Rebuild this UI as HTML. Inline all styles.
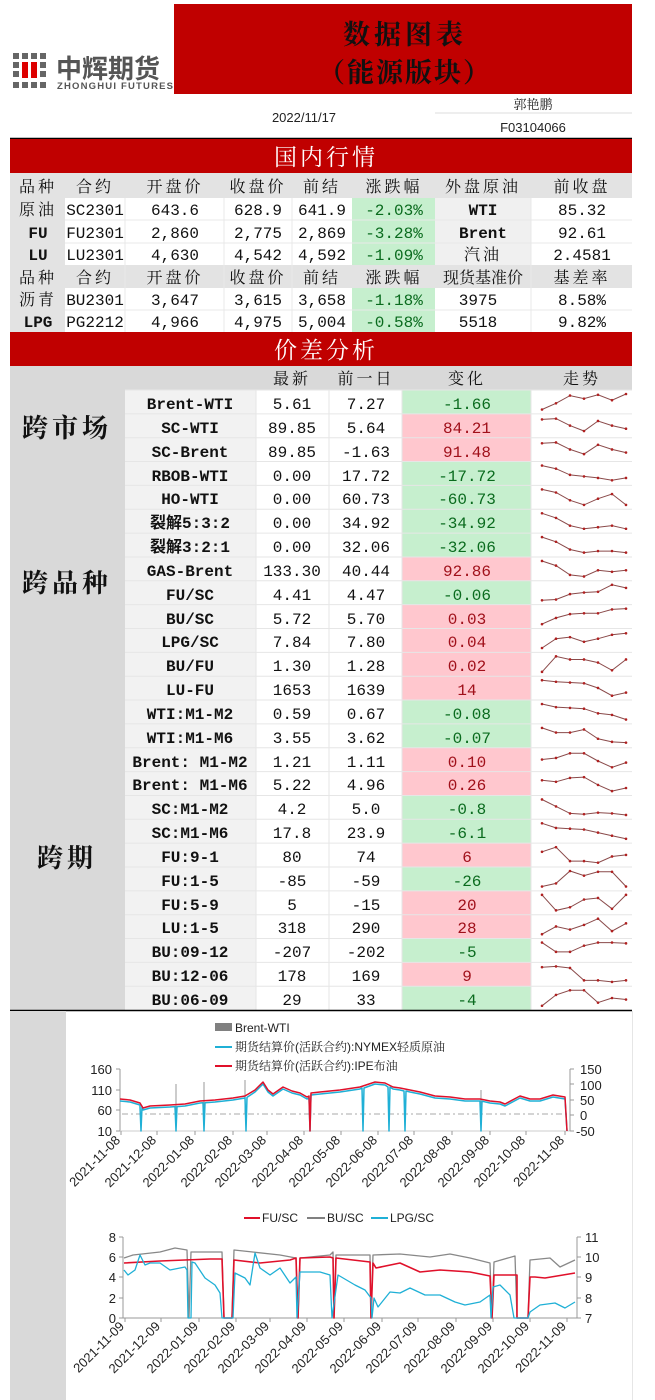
<!DOCTYPE html>
<html><head><meta charset="utf-8"><style>
html,body{margin:0;padding:0;background:#fff;}
svg{display:block;}
.m{font-family:"Liberation Mono","Noto Sans CJK SC",monospace;font-size:16px;fill:#111;}
.mb{font-family:"Liberation Mono","Noto Sans CJK SC",monospace;font-size:16px;font-weight:bold;fill:#111;}
.h{font-family:"Noto Serif CJK SC",serif;font-size:16px;fill:#111;letter-spacing:3px;}
.s{font-family:"Liberation Sans","Noto Sans CJK SC",sans-serif;font-size:12px;fill:#222;}
.ax{font-family:"Liberation Sans",sans-serif;font-size:13px;fill:#222;}
.g{fill:#0a6b1e}.r{fill:#a0101a}
</style></head><body>
<svg width="655" height="1400" viewBox="0 0 655 1400" xmlns="http://www.w3.org/2000/svg">
<rect x="0" y="0" width="655" height="1400" fill="#fff"/>
<!-- header -->
<rect x="174" y="4" width="458" height="90" fill="#c00000"/>
<g fill="#666">
<rect x="13" y="53" width="6" height="6"/><rect x="22" y="53" width="6" height="6"/><rect x="31" y="53" width="6" height="6"/><rect x="40" y="53" width="6" height="6"/>
<rect x="13" y="62" width="6" height="6"/><rect x="40" y="62" width="6" height="6"/>
<rect x="13" y="71" width="6" height="6"/><rect x="40" y="71" width="6" height="6"/>
<rect x="13" y="82" width="6" height="6"/><rect x="22" y="82" width="6" height="6"/><rect x="31" y="82" width="6" height="6"/><rect x="40" y="82" width="6" height="6"/>
</g>
<rect x="22" y="62" width="6" height="16" fill="#d00"/><rect x="31" y="62" width="6" height="16" fill="#d00"/>
<text x="56" y="78" style="font-family:'Noto Sans CJK SC',sans-serif;font-size:26px;font-weight:bold;fill:#555">中辉期货</text>
<text x="57" y="89" style="font-family:'Liberation Sans',sans-serif;font-size:9.5px;font-weight:bold;fill:#555" textLength="116">ZHONGHUI FUTURES</text>
<text x="405" y="44" text-anchor="middle" style="font-family:'Noto Serif CJK SC',serif;font-size:27px;font-weight:bold;fill:#111;letter-spacing:4px">数据图表</text>
<text x="405" y="82" text-anchor="middle" style="font-family:'Noto Serif CJK SC',serif;font-size:27px;font-weight:bold;fill:#111;letter-spacing:2px">（能源版块）</text>
<text x="304" y="122" text-anchor="middle" class="s" style="font-size:13px">2022/11/17</text>
<line x1="435" y1="113" x2="632" y2="113" stroke="#ddd"/>
<text x="533" y="109" text-anchor="middle" style="font-family:'Noto Serif CJK SC',serif;font-size:13px;fill:#222">郭艳鹏</text>
<text x="533" y="132" text-anchor="middle" class="s" style="font-size:13px">F03104066</text>
<line x1="10" y1="138.5" x2="632" y2="138.5" stroke="#000" stroke-width="1.5"/>
<!-- domestic -->
<rect x="10" y="139" width="622" height="34" fill="#c00000"/>
<text x="326" y="165" text-anchor="middle" style="font-family:'Noto Serif CJK SC',serif;font-size:23px;fill:#fff;letter-spacing:3px">国内行情</text>
<rect x="10" y="173" width="622" height="159" fill="#e3e3e3"/>
<rect x="65" y="198" width="567" height="67" fill="#fff"/>
<rect x="65" y="288" width="567" height="44" fill="#fff"/>
<rect x="435" y="198" width="96" height="67" fill="#f0f0f0"/>
<rect x="352" y="198" width="83" height="67" fill="#c6efce"/>
<rect x="352" y="288" width="83" height="44" fill="#c6efce"/>
<g stroke="#e8e8e8"><line x1="65" y1="220" x2="632" y2="220"/><line x1="65" y1="243" x2="632" y2="243"/><line x1="65" y1="310" x2="632" y2="310"/>
<line x1="125" y1="198" x2="125" y2="332"/><line x1="224" y1="198" x2="224" y2="332"/><line x1="292" y1="198" x2="292" y2="332"/><line x1="531" y1="198" x2="531" y2="332"/></g>
<g class="h" text-anchor="middle">
<text x="38" y="192">品种</text><text x="95" y="192">合约</text><text x="175" y="192">开盘价</text><text x="258" y="192">收盘价</text><text x="322" y="192">前结</text><text x="394" y="192">涨跌幅</text><text x="483" y="192">外盘原油</text><text x="582" y="192">前收盘</text>
<text x="38" y="283">品种</text><text x="95" y="283">合约</text><text x="175" y="283">开盘价</text><text x="258" y="283">收盘价</text><text x="322" y="283">前结</text><text x="394" y="283">涨跌幅</text><text x="483" y="283" style="letter-spacing:0">现货基准价</text><text x="582" y="283">基差率</text>
<text x="38" y="215">原油</text><text x="38" y="305">沥青</text><text x="483" y="260">汽油</text>
</g>
<g class="m" text-anchor="middle">
<text class="mb" x="38" y="238">FU</text><text class="mb" x="38" y="260">LU</text><text class="mb" x="38" y="327">LPG</text>
<text x="95" y="215">SC2301</text><text x="95" y="238">FU2301</text><text x="95" y="260">LU2301</text><text x="95" y="305">BU2301</text><text x="95" y="327">PG2212</text>
<text x="175" y="215">643.6</text><text x="175" y="238">2,860</text><text x="175" y="260">4,630</text><text x="175" y="305">3,647</text><text x="175" y="327">4,966</text>
<text x="258" y="215">628.9</text><text x="258" y="238">2,775</text><text x="258" y="260">4,542</text><text x="258" y="305">3,615</text><text x="258" y="327">4,975</text>
<text x="322" y="215">641.9</text><text x="322" y="238">2,869</text><text x="322" y="260">4,592</text><text x="322" y="305">3,658</text><text x="322" y="327">5,004</text>
<text class="m g" x="394" y="215">-2.03%</text><text class="m g" x="394" y="238">-3.28%</text><text class="m g" x="394" y="260">-1.09%</text><text class="m g" x="394" y="305">-1.18%</text><text class="m g" x="394" y="327">-0.58%</text>
<text class="mb" x="483" y="215">WTI</text><text class="mb" x="483" y="238">Brent</text><text x="478" y="305">3975</text><text x="478" y="327">5518</text>
<text x="582" y="215">85.32</text><text x="582" y="238">92.61</text><text x="582" y="260">2.4581</text><text x="582" y="305">8.58%</text><text x="582" y="327">9.82%</text>
</g>
<!-- spread -->
<rect x="10" y="332" width="622" height="34" fill="#c00000"/>
<text x="326" y="358" text-anchor="middle" style="font-family:'Noto Serif CJK SC',serif;font-size:23px;fill:#fff;letter-spacing:3px">价差分析</text>
<rect x="10" y="366" width="622" height="644" fill="#d9d9d9"/>
<rect x="125" y="390" width="131" height="620" fill="#f2f2f2"/>
<rect x="256" y="390" width="376" height="620" fill="#fff"/>
<g class="h" text-anchor="middle"><text x="292" y="384">最新</text><text x="366" y="384">前一日</text><text x="467" y="384">变化</text><text x="582" y="384">走势</text></g>
<g style="font-family:'Noto Serif CJK SC',serif;font-size:26px;font-weight:bold;fill:#111" text-anchor="middle">
<text x="67" y="437" style="letter-spacing:4px">跨市场</text><text x="67" y="592" style="letter-spacing:4px">跨品种</text><text x="67" y="867" style="letter-spacing:4px">跨期</text></g>
<g id="rows"></g>
<line x1="10" y1="1010.5" x2="632" y2="1010.5" stroke="#000" stroke-width="1.5"/>
<!-- charts area -->
<rect x="10" y="1011" width="56" height="389" fill="#d9d9d9"/>
<line x1="632.5" y1="1011" x2="632.5" y2="1400" stroke="#e6e6e6"/>
<!-- chart1 legend -->
<rect x="215" y="1023" width="17" height="8" fill="#808080"/><text class="s" x="235" y="1032">Brent-WTI</text>
<line x1="215" y1="1047" x2="232" y2="1047" stroke="#1fb0d6" stroke-width="2"/><text class="s" x="235" y="1051" style="font-family:'Liberation Sans','Noto Serif CJK SC',serif">期货结算价(活跃合约):NYMEX轻质原油</text>
<line x1="215" y1="1066" x2="232" y2="1066" stroke="#e0102a" stroke-width="2"/><text class="s" x="235" y="1070" style="font-family:'Liberation Sans','Noto Serif CJK SC',serif">期货结算价(活跃合约):IPE布油</text>
<g id="c1"></g>
<g class="ax" text-anchor="end"><text x="112" y="1074">160</text><text x="112" y="1095">110</text><text x="112" y="1115">60</text><text x="112" y="1136">10</text></g>
<g class="ax"><text x="580" y="1074">150</text><text x="580" y="1090">100</text><text x="580" y="1105">50</text><text x="580" y="1120">0</text><text x="576" y="1136">-50</text></g>
<g class="ax" text-anchor="end">
<text x="121" y="1141" transform="rotate(-45 121 1141)">2021-11-08</text>
<text x="157" y="1141" transform="rotate(-45 157 1141)">2021-12-08</text>
<text x="195" y="1141" transform="rotate(-45 195 1141)">2022-01-08</text>
<text x="233" y="1141" transform="rotate(-45 233 1141)">2022-02-08</text>
<text x="267" y="1141" transform="rotate(-45 267 1141)">2022-03-08</text>
<text x="304" y="1141" transform="rotate(-45 304 1141)">2022-04-08</text>
<text x="341" y="1141" transform="rotate(-45 341 1141)">2022-05-08</text>
<text x="378" y="1141" transform="rotate(-45 378 1141)">2022-06-08</text>
<text x="414" y="1141" transform="rotate(-45 414 1141)">2022-07-08</text>
<text x="452" y="1141" transform="rotate(-45 452 1141)">2022-08-08</text>
<text x="490" y="1141" transform="rotate(-45 490 1141)">2022-09-08</text>
<text x="526" y="1141" transform="rotate(-45 526 1141)">2022-10-08</text>
<text x="565" y="1141" transform="rotate(-45 565 1141)">2022-11-08</text>
</g>
<!-- chart2 legend -->
<line x1="244" y1="1218" x2="260" y2="1218" stroke="#e0102a" stroke-width="2"/><text class="s" x="262" y="1222">FU/SC</text>
<line x1="307" y1="1218" x2="325" y2="1218" stroke="#808080" stroke-width="2"/><text class="s" x="327" y="1222">BU/SC</text>
<line x1="371" y1="1218" x2="388" y2="1218" stroke="#1fb0d6" stroke-width="2"/><text class="s" x="390" y="1222">LPG/SC</text>
<g id="c2"></g>
<g class="ax" text-anchor="end"><text x="116" y="1242">8</text><text x="116" y="1262">6</text><text x="116" y="1282">4</text><text x="116" y="1303">2</text><text x="116" y="1323">0</text></g>
<g class="ax"><text x="585" y="1242">11</text><text x="585" y="1262">10</text><text x="585" y="1282">9</text><text x="585" y="1303">8</text><text x="585" y="1323">7</text></g>
<g class="ax" text-anchor="end">
<text x="125" y="1327" transform="rotate(-45 125 1327)">2021-11-09</text>
<text x="161" y="1327" transform="rotate(-45 161 1327)">2021-12-09</text>
<text x="199" y="1327" transform="rotate(-45 199 1327)">2022-01-09</text>
<text x="236" y="1327" transform="rotate(-45 236 1327)">2022-02-09</text>
<text x="270" y="1327" transform="rotate(-45 270 1327)">2022-03-09</text>
<text x="307" y="1327" transform="rotate(-45 307 1327)">2022-04-09</text>
<text x="344" y="1327" transform="rotate(-45 344 1327)">2022-05-09</text>
<text x="382" y="1327" transform="rotate(-45 382 1327)">2022-06-09</text>
<text x="418" y="1327" transform="rotate(-45 418 1327)">2022-07-09</text>
<text x="456" y="1327" transform="rotate(-45 456 1327)">2022-08-09</text>
<text x="493" y="1327" transform="rotate(-45 493 1327)">2022-09-09</text>
<text x="530" y="1327" transform="rotate(-45 530 1327)">2022-10-09</text>
<text x="567" y="1327" transform="rotate(-45 567 1327)">2022-11-09</text>
</g>
<g id="txt" text-anchor="middle">
<text class="mb" x="190" y="409">Brent-WTI</text><text class="m" x="292" y="409">5.61</text><text class="m" x="366" y="409">7.27</text><text class="m g" x="467" y="409">-1.66</text>
<text class="mb" x="190" y="433">SC-WTI</text><text class="m" x="292" y="433">89.85</text><text class="m" x="366" y="433">5.64</text><text class="m r" x="467" y="433">84.21</text>
<text class="mb" x="190" y="457">SC-Brent</text><text class="m" x="292" y="457">89.85</text><text class="m" x="366" y="457">-1.63</text><text class="m r" x="467" y="457">91.48</text>
<text class="mb" x="190" y="481">RBOB-WTI</text><text class="m" x="292" y="481">0.00</text><text class="m" x="366" y="481">17.72</text><text class="m g" x="467" y="481">-17.72</text>
<text class="mb" x="190" y="504">HO-WTI</text><text class="m" x="292" y="504">0.00</text><text class="m" x="366" y="504">60.73</text><text class="m g" x="467" y="504">-60.73</text>
<text class="mb" x="190" y="528">裂解5:3:2</text><text class="m" x="292" y="528">0.00</text><text class="m" x="366" y="528">34.92</text><text class="m g" x="467" y="528">-34.92</text>
<text class="mb" x="190" y="552">裂解3:2:1</text><text class="m" x="292" y="552">0.00</text><text class="m" x="366" y="552">32.06</text><text class="m g" x="467" y="552">-32.06</text>
<text class="mb" x="190" y="576">GAS-Brent</text><text class="m" x="292" y="576">133.30</text><text class="m" x="366" y="576">40.44</text><text class="m r" x="467" y="576">92.86</text>
<text class="mb" x="190" y="600">FU/SC</text><text class="m" x="292" y="600">4.41</text><text class="m" x="366" y="600">4.47</text><text class="m g" x="467" y="600">-0.06</text>
<text class="mb" x="190" y="624">BU/SC</text><text class="m" x="292" y="624">5.72</text><text class="m" x="366" y="624">5.70</text><text class="m r" x="467" y="624">0.03</text>
<text class="mb" x="190" y="647">LPG/SC</text><text class="m" x="292" y="647">7.84</text><text class="m" x="366" y="647">7.80</text><text class="m r" x="467" y="647">0.04</text>
<text class="mb" x="190" y="671">BU/FU</text><text class="m" x="292" y="671">1.30</text><text class="m" x="366" y="671">1.28</text><text class="m r" x="467" y="671">0.02</text>
<text class="mb" x="190" y="695">LU-FU</text><text class="m" x="292" y="695">1653</text><text class="m" x="366" y="695">1639</text><text class="m r" x="467" y="695">14</text>
<text class="mb" x="190" y="719">WTI:M1-M2</text><text class="m" x="292" y="719">0.59</text><text class="m" x="366" y="719">0.67</text><text class="m g" x="467" y="719">-0.08</text>
<text class="mb" x="190" y="743">WTI:M1-M6</text><text class="m" x="292" y="743">3.55</text><text class="m" x="366" y="743">3.62</text><text class="m g" x="467" y="743">-0.07</text>
<text class="mb" x="190" y="767">Brent: M1-M2</text><text class="m" x="292" y="767">1.21</text><text class="m" x="366" y="767">1.11</text><text class="m r" x="467" y="767">0.10</text>
<text class="mb" x="190" y="790">Brent: M1-M6</text><text class="m" x="292" y="790">5.22</text><text class="m" x="366" y="790">4.96</text><text class="m r" x="467" y="790">0.26</text>
<text class="mb" x="190" y="814">SC:M1-M2</text><text class="m" x="292" y="814">4.2</text><text class="m" x="366" y="814">5.0</text><text class="m g" x="467" y="814">-0.8</text>
<text class="mb" x="190" y="838">SC:M1-M6</text><text class="m" x="292" y="838">17.8</text><text class="m" x="366" y="838">23.9</text><text class="m g" x="467" y="838">-6.1</text>
<text class="mb" x="190" y="862">FU:9-1</text><text class="m" x="292" y="862">80</text><text class="m" x="366" y="862">74</text><text class="m r" x="467" y="862">6</text>
<text class="mb" x="190" y="886">FU:1-5</text><text class="m" x="292" y="886">-85</text><text class="m" x="366" y="886">-59</text><text class="m g" x="467" y="886">-26</text>
<text class="mb" x="190" y="910">FU:5-9</text><text class="m" x="292" y="910">5</text><text class="m" x="366" y="910">-15</text><text class="m r" x="467" y="910">20</text>
<text class="mb" x="190" y="933">LU:1-5</text><text class="m" x="292" y="933">318</text><text class="m" x="366" y="933">290</text><text class="m r" x="467" y="933">28</text>
<text class="mb" x="190" y="957">BU:09-12</text><text class="m" x="292" y="957">-207</text><text class="m" x="366" y="957">-202</text><text class="m g" x="467" y="957">-5</text>
<text class="mb" x="190" y="981">BU:12-06</text><text class="m" x="292" y="981">178</text><text class="m" x="366" y="981">169</text><text class="m r" x="467" y="981">9</text>
<text class="mb" x="190" y="1005">BU:06-09</text><text class="m" x="292" y="1005">29</text><text class="m" x="366" y="1005">33</text><text class="m g" x="467" y="1005">-4</text>
</g>
</svg>
<script>
var NS="http://www.w3.org/2000/svg";
function el(p,t,a){var e=document.createElementNS(NS,t);for(var k in a)e.setAttribute(k,a[k]);p.appendChild(e);return e;}
var rows=document.getElementById('rows');
var col="grrgggrgg rrrrggrrggrgrrgrg".replace(/ /g,'');
col="grrggggrgrrrrggrrggrgrrgrg";
var sp=[[1,.6,.1,.3,.05,.4,0],[.1,.05,.5,.85,.2,.5,.7],[.1,.05,.5,.8,.2,.5,.7],[0,.2,.6,.7,.8,.95,.8],[0,.2,.7,1,.6,.3,1],[0,.3,.8,1,.9,.8,1],[0,.3,.8,1,.9,.9,1],[0,.3,.9,1,.6,.7,.6],[1,.95,.6,.5,.45,0,.2],[1,.6,.35,.3,.3,.05,0],[1,.4,.3,.6,.4,.15,.05],[1,0,.2,.2,.4,.9,.2],[0,.1,.15,.2,.5,1,.8],[0,.2,.25,.3,.6,.7,1],[0,.3,.3,.1,.7,.9,.95],[.5,.4,.1,.1,.6,1,.7],[.3,.4,.15,.1,.6,1,.8],[0,.45,.9,.95,.85,.9,1],[0,.3,.35,.4,.6,.8,1],[.3,0,.9,.9,1,.6,.5],[1,.8,0,.3,.05,.05,1],[0,1,.8,.3,.2,.9,0],[1,.5,.7,.4,0,.8,.3],[0,.6,.6,.2,0,0,.05],[.05,0,.1,.9,.9,1,.9],[1,.3,0,0,.8,.5,.6]];
for(var i=0;i<26;i++){var t=390+i*23.85;
el(rows,'rect',{x:402,y:t,width:129,height:23.85,fill:col[i]=='g'?'#c6efce':'#ffc7ce'});
el(rows,'line',{x1:125,x2:632,y1:t,y2:t,stroke:'#e6e6e6'});
var pts=sp[i].map(function(v,k){return (542+k*14)+','+(t+4+v*15.5).toFixed(1)}).join(' ');
el(rows,'polyline',{points:pts,fill:'none',stroke:'#8a4a4a','stroke-width':1});
sp[i].forEach(function(v,k){el(rows,'circle',{cx:542+k*14,cy:t+4+v*15.5,r:1.3,fill:'#b02020'})});}
[256,329,402,531].forEach(function(x){el(rows,'line',{x1:x,x2:x,y1:390,y2:1010,stroke:'#e6e6e6'})});
// chart1
var c1=document.getElementById('c1');
el(c1,'line',{x1:120,x2:120,y1:1069,y2:1131,stroke:'#999'});
el(c1,'line',{x1:120,x2:570,y1:1131,y2:1131,stroke:'#ccc'});
el(c1,'line',{x1:570,x2:570,y1:1069,y2:1131,stroke:'#999'});
[1069,1090,1110,1131].forEach(function(y){el(c1,'line',{x1:116,x2:120,y1:y,y2:y,stroke:'#999'})});
[1069,1084,1100,1115,1131].forEach(function(y){el(c1,'line',{x1:570,x2:574,y1:y,y2:y,stroke:'#999'})});
el(c1,'line',{x1:122,x2:568,y1:1114,y2:1114,stroke:'#aaa','stroke-dasharray':'6,3,2,3'});
[[176,1090],[204,1088],[245,1086],[481,1096]].forEach(function(p){el(c1,'line',{x1:p[0],x2:p[0],y1:p[1]-6,y2:1114,stroke:'#999'})});
var red=[[120,1099],[130,1100],[140,1103],[143,1108],[150,1106],[170,1105],[185,1104],[200,1101],[215,1100],[233,1098],[245,1096],[255,1090],[263,1082],[268,1090],[273,1094],[283,1087],[292,1091],[300,1093],[307,1097],[309,1096],[310,1131],[311,1093],[320,1092],[340,1090],[360,1087],[375,1082],[385,1083],[393,1087],[400,1088],[410,1090],[420,1092],[435,1096],[450,1097],[465,1099],[480,1099],[490,1101],[500,1102],[505,1104],[520,1096],[530,1099],[540,1099],[553,1095],[565,1097],[567,1131]];
var cy=[];red.forEach(function(p){cy.push([p[0],p[1]==1131?p[1]:p[1]+2])});
var out=[];cy.forEach(function(p){out.push(p);[141,176,204,246,363,389,405,481].forEach(function(s){if(p[0]<s&&s<=p[0]+(s-p[0])&&false){}})});
var spk=[141,176,204,246,363,389,405,481];
function withSpikes(arr){var r=[];for(var i=0;i<arr.length;i++){r.push(arr[i]);if(i+1<arr.length){spk.forEach(function(s){if(s>arr[i][0]&&s<=arr[i+1][0]){var y=arr[i][1]+(arr[i+1][1]-arr[i][1])*(s-arr[i][0])/(arr[i+1][0]-arr[i][0]);r.push([s-1,y],[s,1131],[s+1,y]);}})}}return r;}
function pl(g,a,c,w){el(g,'polyline',{points:a.map(function(p){return p[0]+','+p[1]}).join(' '),fill:'none',stroke:c,'stroke-width':w||1.5,'stroke-linejoin':'round'});}
pl(c1,withSpikes(cy),'#1fb0d6',1.5);
pl(c1,red,'#e0102a',1.5);
// chart2
var c2=document.getElementById('c2');
el(c2,'line',{x1:123,x2:123,y1:1237,y2:1318,stroke:'#999'});
el(c2,'line',{x1:123,x2:577,y1:1318,y2:1318,stroke:'#999'});
el(c2,'line',{x1:577,x2:577,y1:1237,y2:1318,stroke:'#999'});
[1237,1257,1277,1298,1318].forEach(function(y){el(c2,'line',{x1:119,x2:123,y1:y,y2:y,stroke:'#999'});el(c2,'line',{x1:577,x2:581,y1:y,y2:y,stroke:'#999'})});
[125,161,199,236,270,307,344,382,418,456,493,530,567].forEach(function(x){el(c2,'line',{x1:x,x2:x,y1:1318,y2:1322,stroke:'#999'})});
[121,157,195,233,267,304,341,378,414,452,490,526,565].forEach(function(x){el(c1,'line',{x1:x,x2:x,y1:1131,y2:1135,stroke:'#999'})});
var B=1318;
var gray=[[124,1258],[133,1255],[160,1252],[175,1248],[187,1250],[189,B],[191,1252],[222,1252],[224,B],[232,B],[234,1250],[280,1255],[296,1258],[298,B],[300,1258],[330,1255],[333,1252],[334,B],[336,1255],[370,1255],[371,B],[373,1255],[400,1254],[430,1257],[450,1254],[470,1258],[490,1263],[492,B],[494,1262],[515,1256],[517,B],[528,B],[530,1260],[550,1258],[560,1267],[575,1260]];
var redl=[[124,1263],[160,1261],[210,1259],[222,1259],[224,B],[232,B],[234,1260],[260,1263],[290,1260],[296,1258],[298,B],[300,1258],[330,1257],[333,1258],[334,B],[336,1258],[370,1262],[371,B],[373,1263],[376,1268],[400,1263],[420,1272],[440,1270],[470,1272],[490,1276],[492,B],[494,1275],[517,1275],[517,B],[528,B],[530,1277],[535,1277],[545,1278],[575,1273]];
var cyan=[[124,1270],[128,1275],[135,1270],[140,1255],[145,1265],[150,1263],[160,1263],[170,1270],[185,1267],[187,1270],[188,B],[191,B],[192,1262],[195,1263],[205,1278],[215,1285],[220,1293],[222,B],[233,B],[235,1273],[245,1278],[250,1285],[255,1253],[260,1268],[270,1275],[280,1268],[290,1283],[296,1277],[297,B],[300,1272],[320,1272],[330,1275],[332,B],[338,1275],[355,1285],[365,1290],[371,1298],[372,B],[374,1298],[378,1307],[390,1292],[400,1293],[410,1288],[425,1295],[440,1295],[455,1302],[465,1305],[480,1302],[490,1295],[491,B],[493,1287],[500,1285],[510,1295],[514,B],[528,B],[530,1312],[540,1305],[555,1303],[565,1308],[575,1302]];
pl(c2,gray,'#888',1.3);pl(c2,redl,'#e0102a',1.6);pl(c2,cyan,'#1fb0d6',1.3);
</script>
</body></html>
